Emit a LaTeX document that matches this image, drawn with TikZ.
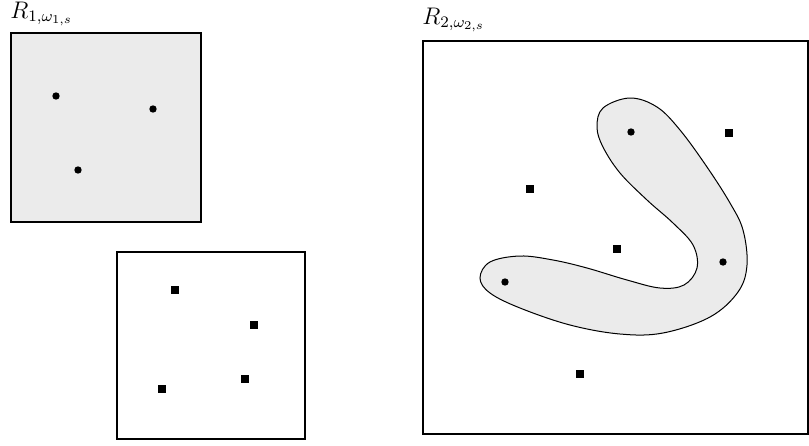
\documentclass[tikz,border=0pt]{standalone}
\usepackage{xcolor}
\usepackage{amsmath}
\usepackage{tikz}
\usetikzlibrary{shapes,positioning,calc}
\definecolor{regiongray}{RGB}{235,235,235}

\begin{document}
\begin{tikzpicture}[
    x=0.5pt, y=-0.5pt,
    region/.style={rectangle, draw, line width=1pt, inner sep=0pt, anchor=north west},
    pt/.style={circle, fill=black, inner sep=0pt, minimum size=3.7pt},
    sq/.style={rectangle, fill=black, inner sep=0pt, minimum size=3.8pt},
    lbl/.style={anchor=base west, inner sep=0pt, font=\fontsize{11.5pt}{14pt}\selectfont}
]
    \useasboundingbox (0,0) rectangle (809,445);

    % first set of boxes
    \node[region, fill=regiongray, minimum width=95pt, minimum height=94.5pt] (r1) at (10,32) {};
    \node[lbl] (r1lbl) at ($(r1.north west)+(0,-14)$) {$R_{1,\omega_{1,s}}$};
    \node[pt] (a1) at (56,96) {};
    \node[pt] (a2) at (153,109) {};
    \node[pt] (a3) at (78,170) {};

    \node[region, minimum width=94pt, minimum height=93.5pt] (q1) at (116,251) {};
    \node[sq] (b1) at (175,290) {};
    \node[sq] (b2) at (254,325) {};
    \node[sq] (b3) at (245,379) {};
    \node[sq] (b4) at (162,389) {};

    % second region with the blob
    \node[region, minimum width=192.7pt, minimum height=196.5pt] (r2) at (422,40) {};
    \node[lbl] (r2lbl) at ($(r2.north west)+(0,-16)$) {$R_{2,\omega_{2,s}}$};
    \draw[fill=regiongray, line width=0.5pt] plot[smooth cycle, tension=0.6] coordinates {
        (630,98) (657,107) (680,130) (707,167) (730,203) (743,230) (747,265)
        (738,292) (710,317) (663,333) (620,334) (570,325) (520,308) (490,293)
        (480,278) (490,262) (520,256) (553,260) (587,268) (627,280) (660,288)
        (684,285) (697,268) (693,245) (673,223) (647,200) (620,173) (603,147)
        (597,127) (603,108)};
    \node[pt] (c1) at (631,132) {};
    \node[pt] (c2) at (723,262) {};
    \node[pt] (c3) at (505,282) {};
    \node[sq] (d1) at (729,133) {};
    \node[sq] (d2) at (530,189) {};
    \node[sq] (d3) at (617,249) {};
    \node[sq] (d4) at (580,374) {};
\end{tikzpicture}
\end{document}
